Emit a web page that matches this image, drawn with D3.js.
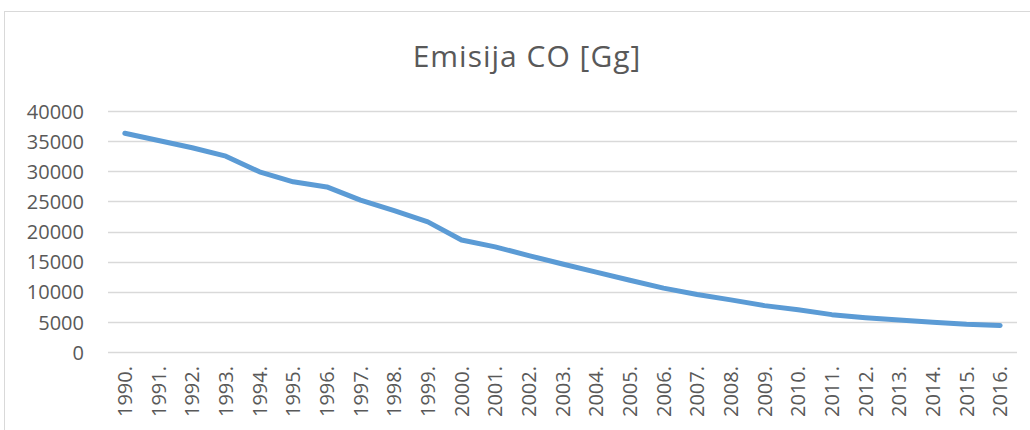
<!DOCTYPE html>
<html>
<head>
<meta charset="utf-8">
<script src="https://cdn.jsdelivr.net/npm/d3@7"></script>
<style>
  body { margin: 0; background: #fff; }
  svg { display: block; }
</style>
</head>
<body>
<div id="chart"></div>
<script>
const years = ['1990.', '1991.', '1992.', '1993.', '1994.', '1995.', '1996.', '1997.', '1998.', '1999.',
    '2000.', '2001.', '2002.', '2003.', '2004.', '2005.', '2006.', '2007.', '2008.', '2009.',
    '2010.', '2011.', '2012.', '2013.', '2014.', '2015.', '2016.'];
const emisijaCO = [36300, 35100, 33900, 32500, 29900, 28250, 27400, 25200, 23450, 21600,
    18600, 17450, 16000, 14600, 13250, 11900, 10600, 9550, 8650, 7700,
    7000, 6200, 5700, 5300, 4950, 4600, 4400];
const yTicks = [0, 5000, 10000, 15000, 20000, 25000, 30000, 35000, 40000];

const width = 1030, height = 430;
const plot = {left: 108, right: 1017, top: 111, bottom: 352};
const font = '"Open Sans", Lato, sans-serif';

const svg = d3.select('#chart').append('svg')
    .attr('width', width)
    .attr('height', height);

// okvir grafikona
svg.append('rect')
    .attr('x', 4.5).attr('y', 11.5)
    .attr('width', 1040).attr('height', 440)
    .attr('fill', '#fff')
    .attr('stroke', '#d9d9d9')
    .attr('stroke-width', 1);

svg.append('text')
    .attr('x', 527)
    .attr('y', 67)
    .attr('text-anchor', 'middle')
    .attr('fill', '#595959')
    .style('font-family', font)
    .style('font-size', '30px')
    .style('letter-spacing', '1px')
    .text('Emisija CO [Gg]');

const x = d3.scaleBand()
    .domain(years)
    .range([plot.left, plot.right]);

const y = d3.scaleLinear()
    .domain([0, 40000])
    .range([plot.bottom, plot.top]);

// mreža
svg.append('g')
    .selectAll('line')
    .data(yTicks)
    .enter()
    .append('line')
    .attr('x1', plot.left).attr('x2', plot.right)
    .attr('y1', d => Math.round(y(d)) + 0.5)
    .attr('y2', d => Math.round(y(d)) + 0.5)
    .attr('stroke', '#d9d9d9')
    .attr('stroke-width', 1.3);

// y os
const yAxis = svg.append('g')
    .attr('transform', `translate(${plot.left}, 0)`)
    .call(d3.axisLeft(y).tickValues(yTicks).tickSize(0).tickPadding(24).tickFormat(d3.format('d')));
yAxis.select('.domain').remove();
yAxis.selectAll('text')
    .attr('fill', '#595959')
    .attr('dy', '0.36em')
    .style('font-family', font)
    .style('font-size', '20px');

// x os
const xAxis = svg.append('g')
    .attr('transform', `translate(0, ${plot.bottom})`)
    .call(d3.axisBottom(x).tickSize(0));
xAxis.select('.domain').remove();
xAxis.selectAll('text')
    .attr('transform', 'rotate(-90)')
    .attr('text-anchor', 'end')
    .attr('x', -14)
    .attr('y', 0)
    .attr('dy', '0.36em')
    .attr('fill', '#595959')
    .style('font-family', font)
    .style('font-size', '20px');

// linija
const line = d3.line()
    .x((d, i) => x(years[i]) + x.bandwidth() / 2)
    .y(d => y(d));

svg.append('path')
    .datum(emisijaCO)
    .attr('d', line)
    .attr('fill', 'none')
    .attr('stroke', '#5b9bd5')
    .attr('stroke-width', 5)
    .attr('stroke-linejoin', 'round')
    .attr('stroke-linecap', 'round');
</script>
</body>
</html>
